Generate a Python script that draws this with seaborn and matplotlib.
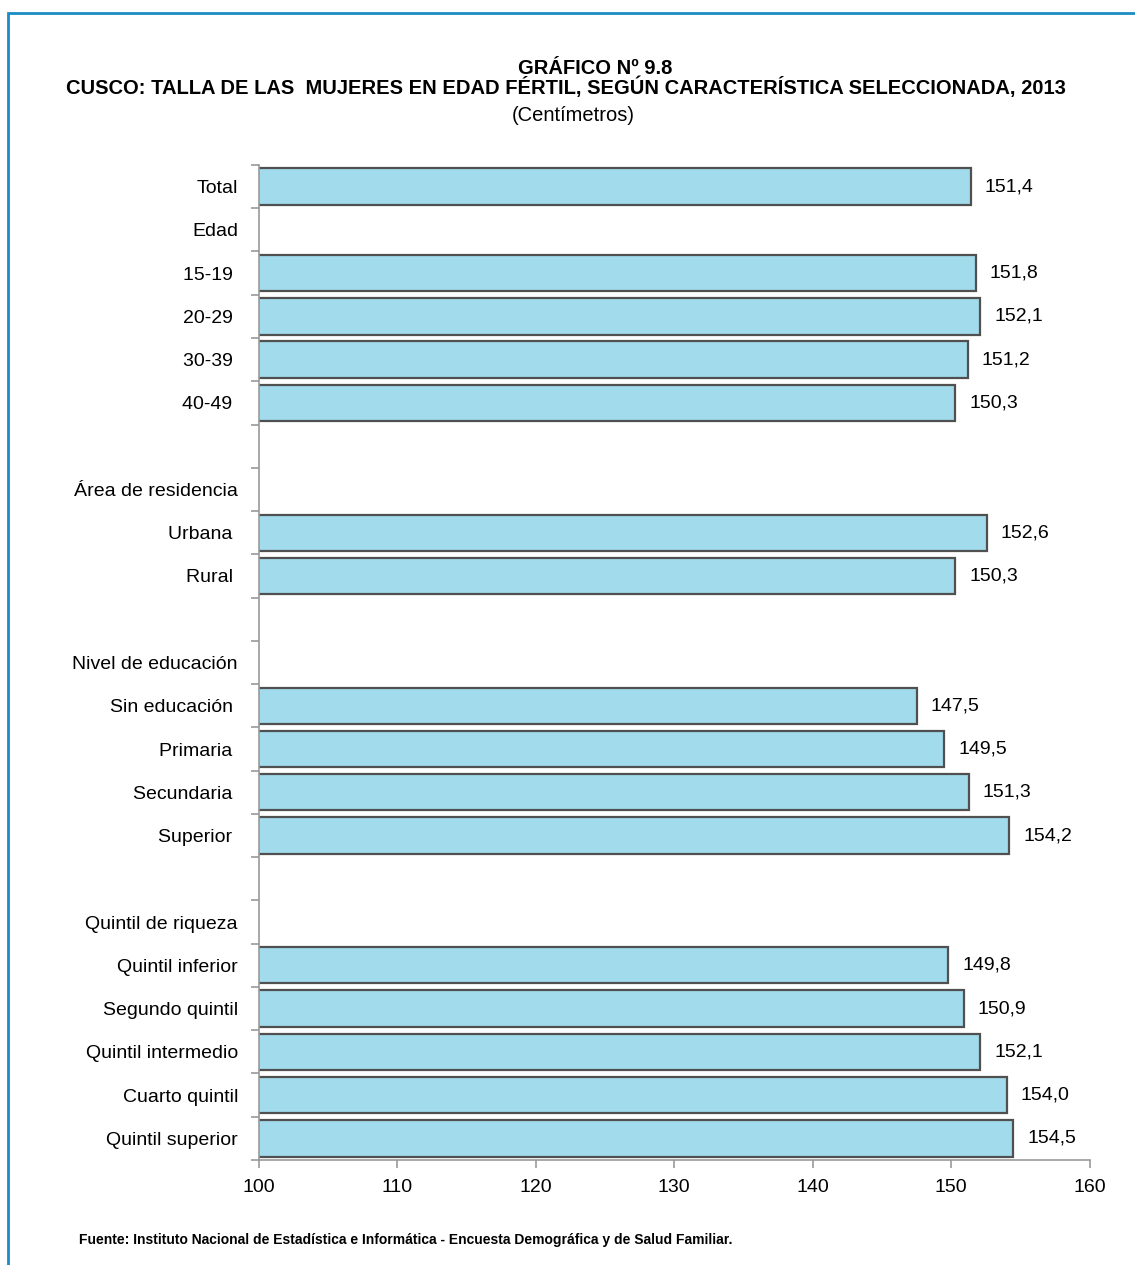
import numpy as np
import pandas as pd
import matplotlib
matplotlib.use("Agg")
import matplotlib.pyplot as plt
from matplotlib.patches import Rectangle
import seaborn as sns

# rows of the chart, top to bottom (None = no bar, header or spacer)
labels = ["Total", "Edad", "15-19 ", "20-29 ", "30-39 ", "40-49 ", "",
          "Área de residencia", "Urbana ", "Rural ", "",
          "Nivel de educación", "Sin educación ", "Primaria ", "Secundaria ", "Superior ", "",
          "Quintil de riqueza", "Quintil inferior", "Segundo quintil", "Quintil intermedio",
          "Cuarto quintil", "Quintil superior"]
values = [151.4, None, 151.8, 152.1, 151.2, 150.3, None,
          None, 152.6, 150.3, None,
          None, 147.5, 149.5, 151.3, 154.2, None,
          None, 149.8, 150.9, 152.1, 154.0, 154.5]

df = pd.DataFrame({"row": [str(i) for i in range(len(labels))],
                   "label": labels,
                   "talla": values})

sns.set_style("white")
plt.rcParams["font.family"] = ["Liberation Sans", "DejaVu Sans"]
plt.rcParams["text.color"] = "black"
plt.rcParams["xtick.labelcolor"] = "black"
plt.rcParams["ytick.labelcolor"] = "black"

fig = plt.figure(figsize=(11.35, 12.65), dpi=100)
ax = fig.add_axes([0.228, 0.083, 0.732, 0.7866])

sns.barplot(data=df, y="row", x="talla", order=list(df["row"]), orient="h",
            color="#A2DBEB", saturation=1, width=0.84,
            edgecolor="#505050", linewidth=1.6, ax=ax)

ax.set_xlim(100, 160)
ax.set_ylim(len(labels) - 0.5, -0.5)
ax.set_xticks([100, 110, 120, 130, 140, 150, 160])
ax.set_xticklabels(["100", "110", "120", "130", "140", "150", "160"], fontsize=14)
ax.set_yticks(range(len(labels)))
ax.set_yticklabels(labels, fontsize=14)
ax.set_yticks(np.arange(-0.5, len(labels)), minor=True)
ax.tick_params(axis="y", which="major", left=True, length=0, pad=15)
ax.tick_params(axis="y", which="minor", left=True, length=6, color="#999999", width=1.2, direction="out")
ax.tick_params(axis="x", bottom=True, length=6, color="#999999", width=1.2, direction="out", pad=8)
ax.set_xlabel("")
ax.set_ylabel("")

for s in ["top", "right"]:
    ax.spines[s].set_visible(False)
for s in ["left", "bottom"]:
    ax.spines[s].set_color("#999999")
    ax.spines[s].set_linewidth(1.2)

for i, v in enumerate(values):
    if v is not None:
        ax.text(v + 1.0, i, f"{v:.1f}".replace(".", ","), va="center", ha="left", fontsize=14)

fig.text(0.524, 0.946, "GRÁFICO Nº 9.8", ha="center", va="center", fontsize=14.5, fontweight="bold")
fig.text(0.499, 0.931, "CUSCO: TALLA DE LAS  MUJERES EN EDAD FÉRTIL, SEGÚN CARACTERÍSTICA SELECCIONADA, 2013",
         ha="center", va="center", fontsize=14.5, fontweight="bold")
fig.text(0.505, 0.909, "(Centímetros)", ha="center", va="center", fontsize=14.5)
fig.text(0.070, 0.020, "Fuente: Instituto Nacional de Estadística e Informática - Encuesta Demográfica y de Salud Familiar.",
         ha="left", va="center", fontsize=10, fontweight="bold")

fig.add_artist(Rectangle((8 / 1135, -0.05), 1.05, 1.05 - 13 / 1265, transform=fig.transFigure,
                         fill=False, edgecolor="#1B8DC4", linewidth=2, clip_on=False))

fig.savefig("out.png", dpi=100)
